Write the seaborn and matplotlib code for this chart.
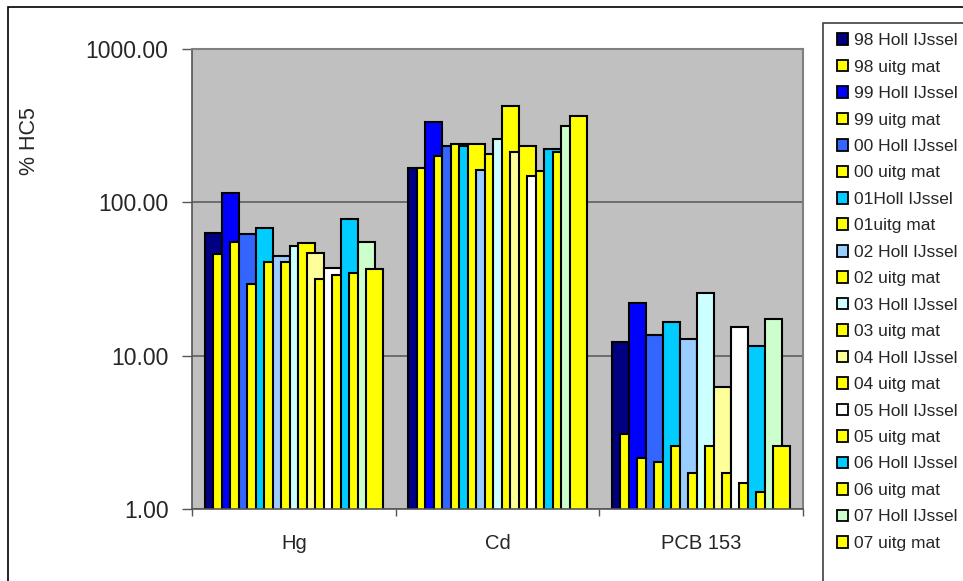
import numpy as np
import pandas as pd
import matplotlib
matplotlib.use('Agg')
import matplotlib.pyplot as plt
from matplotlib.patches import Patch, Rectangle
from matplotlib.ticker import FixedLocator, FormatStrFormatter, NullLocator
import seaborn as sns

sns.set_theme(style='white')
plt.rcParams['font.family'] = ['Liberation Sans', 'DejaVu Sans']

# ---------------------------------------------------------------------------
# data (% HC5, log axis)
# ---------------------------------------------------------------------------
categories = ['Hg', 'Cd', 'PCB 153']
series = ['98 Holl IJssel', '98 uitg mat', '99 Holl IJssel', '99 uitg mat',
          '00 Holl IJssel', '00 uitg mat', '01Holl IJssel', '01uitg mat',
          '02 Holl IJssel', '02 uitg mat', '03 Holl IJssel', '03 uitg mat',
          '04 Holl IJssel', '04 uitg mat', '05 Holl IJssel', '05 uitg mat',
          '06 Holl IJssel', '06 uitg mat', '07 Holl IJssel', '07 uitg mat']
hg = [63, 46, 115, 55, 62, 29.5, 68, 41, 45, 41,
      52, 54, 46.5, 31.5, 37.5, 33.5, 77.5, 34.5, 55.5, 36.5]
cd = [168, 167, 336, 201, 234, 240, 234, 240, 163, 207,
      258, 425, 214, 233, 149, 159, 222, 214, 316, 367]
pcb = [12.3, 3.07, 21.9, 2.14, 13.6, 2.04, 16.7, 2.59, 12.8, 1.71,
       25.5, 2.59, 6.2, 1.71, 15.3, 1.47, 11.6, 1.30, 17.3, 2.59]
colors = ['#000080', '#FFFF00', '#0000FF', '#FFFF00', '#3366FF', '#FFFF00',
          '#00CCFF', '#FFFF00', '#99CCFF', '#FFFF00', '#CCFFFF', '#FFFF00',
          '#FFFF99', '#FFFF00', '#FFFFFF', '#FFFF00', '#00CCFF', '#FFFF00',
          '#CCFFCC', '#FFFF00']

df = pd.DataFrame({
    'cat': np.repeat(categories, len(series)),
    'series': series * len(categories),
    'val': hg + cd + pcb,
})

# ---------------------------------------------------------------------------
# plot
# ---------------------------------------------------------------------------
W, H = 963, 581
fig = plt.figure(figsize=(W / 100, H / 100), dpi=100)
ax = fig.add_axes([192 / W, 1 - 509 / H, (803 - 192) / W, (509 - 49) / H])
ax.set_facecolor('#C0C0C0')

group_w = 0.835
sns.barplot(data=df, x='cat', y='val', hue='series', hue_order=series,
            order=categories, palette=colors, width=group_w, dodge=True,
            edgecolor='black', linewidth=1.5, saturation=1, legend=False, ax=ax)

# Excel-style overlapping bars: every bar twice as wide as its step
step = group_w / len(series)
for p in ax.patches:
    p.set_width(2 * step)
    p.set_x(p.get_x() - step / 2)

ax.set_yscale('log')
ax.set_ylim(1, 1000)
ax.set_xlim(-0.5, 2.5)
ax.yaxis.set_major_locator(FixedLocator([1, 10, 100, 1000]))
ax.yaxis.set_major_formatter(FormatStrFormatter('%.2f'))
ax.yaxis.set_minor_locator(NullLocator())
ax.grid(axis='y', which='major', color='#555555', lw=1.1)
ax.set_axisbelow(True)

ax.set_xticks(range(len(categories)))
ax.set_xticklabels(categories, fontsize=14.5)
ax.xaxis.set_minor_locator(FixedLocator([-0.5, 0.5, 1.5, 2.5]))
ax.tick_params(axis='x', which='major', length=0, pad=18)
ax.tick_params(axis='x', which='minor', length=5, width=1, color='#555555',
               direction='out', bottom=True)
ax.tick_params(axis='y', which='major', length=7, width=1, color='#555555',
               direction='out', left=True, labelsize=16.5, pad=10)
ax.set_xlabel('')
ax.set_ylabel('% HC5', fontsize=15.5)
ax.yaxis.set_label_coords(-0.248, 0.80)

for side in ['top', 'right']:
    ax.spines[side].set_color('#808080')
    ax.spines[side].set_linewidth(1.5)
for side in ['left', 'bottom']:
    ax.spines[side].set_color('#555555')
    ax.spines[side].set_linewidth(1.2)

# legend (frame extends past the image like in the reference)
handles = [Patch(facecolor=c, edgecolor='black', lw=1.3) for c in colors]
fig.legend(handles, series, loc='upper left',
           bbox_to_anchor=(825 / W, 1 - 21 / H), bbox_transform=fig.transFigure,
           frameon=False, fontsize=12.5, labelspacing=0.66, handlelength=0.65,
           handleheight=0.65, handletextpad=0.3, borderpad=0.2)
fig.patches.append(Rectangle((823 / W, -0.2), 0.5, 1.2 - 23 / H, fill=False,
                             edgecolor='#404040', lw=1.2,
                             transform=fig.transFigure, figure=fig))
# chart area border
fig.patches.append(Rectangle((8 / W, -0.2), 1.5, 1.2 - 7 / H, fill=False,
                             edgecolor='black', lw=1.2,
                             transform=fig.transFigure, figure=fig))

fig.savefig('out.png', dpi=100)
